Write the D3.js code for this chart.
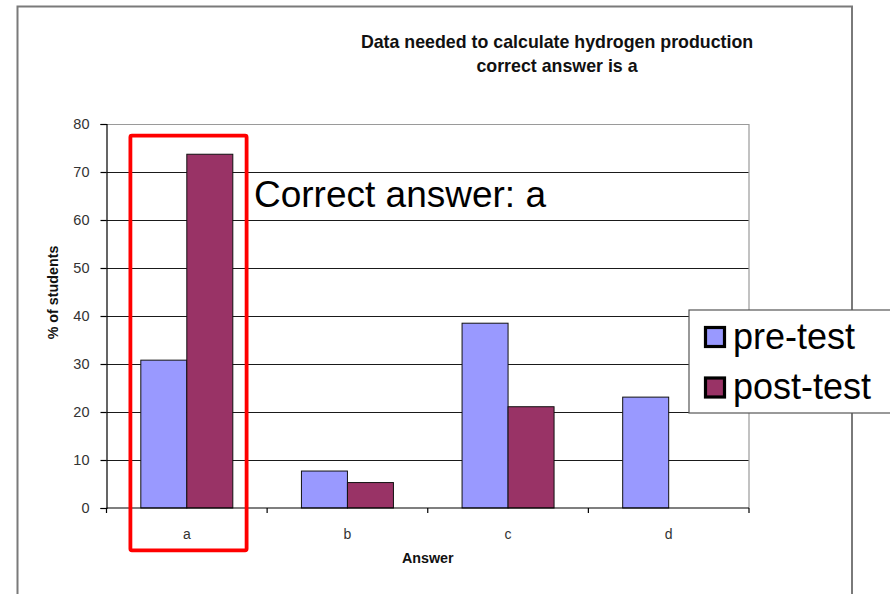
<!DOCTYPE html>
<html>
<head>
<meta charset="utf-8">
<script src="https://cdn.jsdelivr.net/npm/d3@7/dist/d3.min.js"></script>
<style>
  html, body { margin: 0; padding: 0; background: #fff; }
  svg { display: block; font-family: "Liberation Sans", Arial, sans-serif; }
</style>
</head>
<body>
<svg id="chart" width="890" height="594"></svg>
<script>
const categories = ["a", "b", "c", "d"];
const seriesNames = ["pre-test", "post-test"];
const preTest = [30.8, 7.7, 38.5, 23.1];
const postTest = [73.7, 5.3, 21.1, 0];
const yTicks = [0, 10, 20, 30, 40, 50, 60, 70, 80];
const titleLines = ["Data needed to calculate hydrogen production", "correct answer is  a"];
const colors = ["#9999FF", "#993366"];

const svg = d3.select("#chart");
const W = 890, H = 594;
const plot = { left: 106.5, right: 749, top: 124, bottom: 508 };

// outer frame
svg.append("path")
  .attr("d", `M17.5,${H} L17.5,6.5 L852,6.5 L852,${H}`)
  .attr("fill", "none").attr("stroke", "#7a7a7a").attr("stroke-width", 2);

const x0 = d3.scaleBand().domain(categories).range([plot.left, plot.right]).padding(0);
const x1 = d3.scaleBand().domain(seriesNames).range([0, x0.bandwidth()]).paddingInner(0).paddingOuter(0.746);
const y = d3.scaleLinear().domain([0, 80]).range([plot.bottom, plot.top]);

// gridlines
svg.append("g").selectAll("line").data(yTicks.filter(t => t > 0 && t < 80)).join("line")
  .attr("x1", plot.left).attr("x2", plot.right)
  .attr("y1", d => Math.round(y(d)) + 0.5).attr("y2", d => Math.round(y(d)) + 0.5)
  .attr("stroke", "#1a1a1a").attr("stroke-width", 1.2);

// plot border top & right (gray)
svg.append("path")
  .attr("d", `M${plot.left},${y(80) + 0.5} L${plot.right},${y(80) + 0.5} L${plot.right},${plot.bottom}`)
  .attr("fill", "none").attr("stroke", "#9a9a9a").attr("stroke-width", 1.2);

// bars
const data = categories.map((c, i) => ({ cat: c, values: [preTest[i], postTest[i]] }));
const groups = svg.append("g").selectAll("g").data(data).join("g")
  .attr("transform", d => `translate(${x0(d.cat)},0)`);
groups.selectAll("rect")
  .data(d => d.values.map((v, j) => ({ v, s: seriesNames[j], j })).filter(e => e.v > 0))
  .join("rect")
  .attr("x", d => x1(d.s))
  .attr("width", x1.bandwidth())
  .attr("y", d => y(d.v))
  .attr("height", d => y(0) - y(d.v))
  .attr("fill", d => colors[d.j])
  .attr("stroke", "#111").attr("stroke-width", 1);

// y axis
const yAxis = d3.axisLeft(y).tickValues(yTicks).tickSize(6).tickPadding(11);
const gy = svg.append("g").attr("transform", `translate(${plot.left},0)`).call(yAxis);
gy.select(".domain").attr("stroke", "#000").attr("stroke-width", 1.2);
gy.selectAll(".tick line").attr("stroke", "#000").attr("stroke-width", 1.2);
gy.selectAll(".tick text")
  .attr("font-size", 14.5).attr("fill", "#333")
  .attr("font-family", "'Liberation Sans', Arial, sans-serif");

// x axis with ticks at category boundaries
const gx = svg.append("g").attr("transform", `translate(0,${plot.bottom})`);
gx.append("line").attr("x1", plot.left).attr("x2", plot.right).attr("y1", 0).attr("y2", 0)
  .attr("stroke", "#000").attr("stroke-width", 1.2);
const boundaries = categories.map(c => x0(c)).concat([x0(categories[categories.length - 1]) + x0.bandwidth()]);
gx.selectAll("line.tk").data(boundaries).join("line").attr("class", "tk")
  .attr("x1", d => d).attr("x2", d => d).attr("y1", 0).attr("y2", 5)
  .attr("stroke", "#000").attr("stroke-width", 1.2);
gx.selectAll("text").data(categories).join("text")
  .attr("x", d => x0(d) + x0.bandwidth() / 2).attr("y", 31)
  .attr("text-anchor", "middle").attr("font-size", 14).attr("fill", "#333")
  .text(d => d);

// axis titles
svg.append("text").attr("x", (plot.left + plot.right) / 2).attr("y", 562.5)
  .attr("text-anchor", "middle").attr("font-size", 14.3).attr("font-weight", "bold").attr("fill", "#111")
  .text("Answer");
svg.append("text").attr("transform", "translate(57.5,292.5) rotate(-90)")
  .attr("text-anchor", "middle").attr("font-size", 14.3).attr("font-weight", "bold").attr("fill", "#111")
  .text("% of students");

// chart title
svg.append("g").selectAll("text").data(titleLines).join("text")
  .attr("x", 557).attr("y", (d, i) => 47.5 + i * 24.5)
  .attr("text-anchor", "middle").attr("font-size", 17.8).attr("font-weight", "bold").attr("fill", "#111")
  .text(d => d);

// annotation
svg.append("text").attr("x", 254).attr("y", 206.5)
  .attr("font-size", 37).attr("fill", "#000").text("Correct answer: a");

// red highlight rectangle
svg.append("rect").attr("x", 130.4).attr("y", 135.7).attr("width", 116.2).attr("height", 414.6)
  .attr("rx", 1.5).attr("fill", "none").attr("stroke", "#ff0000").attr("stroke-width", 3.8);

// legend
const lg = svg.append("g");
lg.append("rect").attr("x", 689).attr("y", 310).attr("width", 220).attr("height", 103)
  .attr("fill", "#fff").attr("stroke", "#555").attr("stroke-width", 1.2);
const items = lg.selectAll("g").data(seriesNames).join("g")
  .attr("transform", (d, i) => `translate(0,${i * 50.5})`);
items.append("rect").attr("x", 705.5).attr("y", 327.5).attr("width", 19).attr("height", 19)
  .attr("fill", (d, i) => colors[i]).attr("stroke", "#000").attr("stroke-width", 3.2);
items.append("text").attr("x", 733).attr("y", 348.5)
  .attr("font-size", 36).attr("fill", "#000").text(d => d);
</script>
</body>
</html>
